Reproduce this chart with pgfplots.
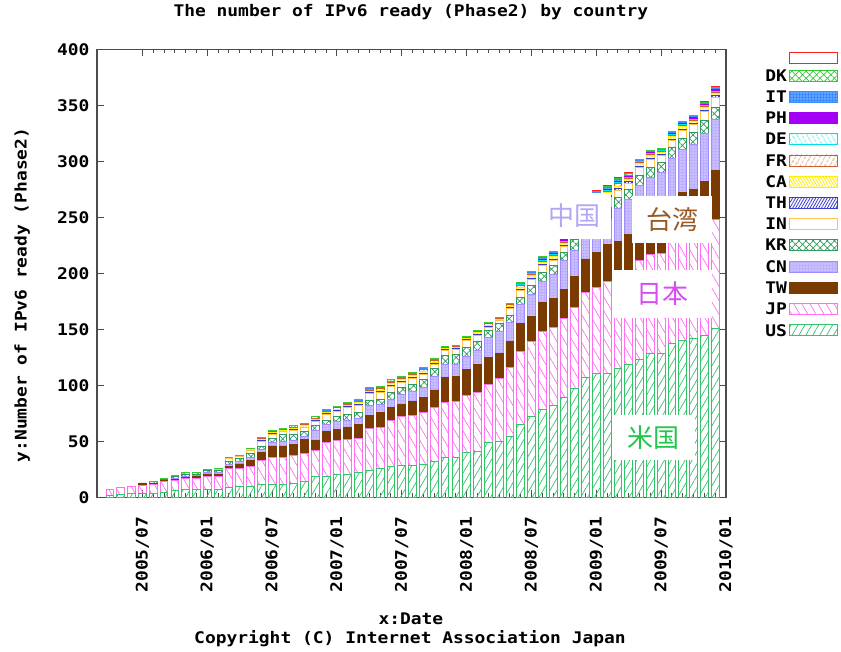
\documentclass[border=0pt]{standalone}
\usepackage{pgfplots}
\pgfplotsset{compat=1.18}
\usepackage{pgfplotstable}
\usetikzlibrary{patterns,patterns.meta}
\usepackage{fontspec}
\newfontfamily\gfont{DejaVu Sans Mono}[FakeStretch=1.12]
\newfontfamily\cjk{Noto Sans CJK JP}
\newcommand\gf{\gfont\bfseries\fontsize{16}{18}\selectfont}
\newcommand\cj{\cjk\fontsize{26}{28}\selectfont}

\definecolor{usc}{HTML}{33C46A}
\definecolor{jpc}{HTML}{FF6EF5}
\definecolor{twc}{HTML}{7B3A00}
\definecolor{cnc}{HTML}{A18CFF}
\definecolor{krc}{HTML}{2E9A5E}
\definecolor{inc}{HTML}{FFC34D}
\definecolor{thc}{HTML}{3B3BD1}
\definecolor{cac}{HTML}{FFEE00}
\definecolor{frc}{HTML}{D0602A}
\definecolor{dec}{HTML}{00E0EE}
\definecolor{phc}{HTML}{A300F5}
\definecolor{itc}{HTML}{3A8CFF}
\definecolor{dkc}{HTML}{36C936}
\definecolor{xxc}{HTML}{FF2020}
\definecolor{lbUS}{HTML}{21C74A}
\definecolor{lbJP}{HTML}{D94CF2}
\definecolor{lbTW}{HTML}{9A5A22}
\definecolor{lbCN}{HTML}{B5A5F7}

\pgfplotstableread{
x  US  JP  TW CN KR IN TH CA FR DE PH IT DK XX
3   2   5   0  0  0  0  0  0  0  0  0  0  0  0
4   3   6   0  0  0  0  0  0  0  0  0  0  0  0
5   4   6   0  0  0  0  0  0  0  0  0  0  0  0
6   4   7   2  0  0  0  0  0  0  0  0  0  0  0
7   4   8   1  0  0  0  0  0  0  0  0  0  1  0
8   5   9   1  0  1  0  0  0  0  0  0  0  1  0
9   6   9   1  1  2  0  0  0  0  0  0  0  1  0
10  7  10   1  1  2  0  0  0  0  0  0  0  1  0
11  7  10   2  1  1  0  0  0  0  0  0  0  1  0
12  7  12   2  1  2  0  0  0  0  0  0  0  1  0
13  7  12   2  1  2  1  0  0  0  0  0  0  1  0
14  9  17   2  2  2  3  0  0  0  0  0  0  1  0
15 10  16   4  2  3  2  0  0  0  0  0  0  1  0
16 10  18   5  3  3  3  0  1  0  0  0  0  1  0
17 12  21   7  3  3  4  1  1  1  0  0  0  1  0
18 12  24  10  3  4  3  1  1  1  0  0  0  1  0
19 12  24  10  4  6  3  0  1  1  0  0  0  1  0
20 13  25   9  4  5  4  1  1  1  0  0  0  1  0
21 14  25  13  3  4  4  0  1  1  0  0  0  1  0
22 19  23   9  9  4  4  1  1  1  0  0  0  1  0
23 19  30  10  6  4  5  1  1  1  0  0  1  1  0
24 21  30  10  7  4  5  1  1  1  0  0  0  1  0
25 21  31  11  6  5  6  1  1  1  0  0  1  1  0
26 22  31  12  6  5  6  1  2  1  0  0  1  1  0
27 24  38  11  9  5  6  1  1  1  0  0  1  1  0
28 26  37  13  7  5  6  1  1  1  0  0  1  1  0
29 28  41  11  8  6  5  1  2  1  0  0  1  1  0
30 29  43  11  9  6  5  1  1  1  0  0  1  1  0
31 29  44  13  9  6  5  1  2  1  0  0  1  1  0
32 30  46  13  9  7  5  1  2  1  0  0  1  1  0
33 32  48  16 12  7  4  1  1  1  0  0  1  1  0
34 36  49  22 12  8  4  1  1  1  0  0  0  1  0
35 36  50  22 11  9  4  1  1  1  0  0  0  1  0
36 40  51  23 12  8  6  1  1  1  0  0  0  1  0
37 41  53  25 12  8  6  1  1  1  0  0  0  1  0
38 49  52  24 18  6  3  1  1  1  0  0  0  1  0
39 50  56  23 19  7  3  0  1  1  0  0  0  1  0
40 55  61  23 17  7  6  1  1  1  0  0  0  1  0
41 65  65  25 17  7  6  1  2  1  1  0  1  1  0
42 72  67  23 19  8  6  1  2  1  1  0  1  1  0
43 79  69  26 19  8  6  1  2  1  1  1  1  1  0
44 82  70  26 21  8  5  1  2  1  1  1  1  1  0
45 89  71  26 26  7  5  1  2  1  1  1  1  1  0
46 97  73  27 24  9  6  1  2  1  1  1  1  1  1
47 107 76  30 22  9  7  1  2  1  1  1  1  1  1
48 111 77  31 25 11  9  2  2  1  1  1  1  1  1
49 111 82  33 22 11  9  2  2  1  1  1  2  1  1
50 115 86  28 29 10  6  2  2  2  1  1  2  1  1
51 119 82  34 31  9  5  2  2  1  1  1  1  1  1
52 123 89  33 34  9  7  1  2  1  1  0  1  1  0
53 129 88  33 36  9  7  1  2  1  1  1  1  1  0
54 129 89  34 38  9  6  1  2  1  1  0  1  1  0
55 138 95  33 37 10  6  1  2  1  1  1  1  1  0
56 140 100 32 39 10  7  1  2  1  1  1  1  1  0
57 142 101 32 40 11  7  1  2  1  1  1  1  1  0
58 145 100 37 43 12  8  1  2  1  1  1  1  1  1
59 151 97  44 46 10  9  2  2  1  1  1  1  1  1
}\data

\pgfplotsset{
  sUS/.style={draw=usc, line width=0.8pt, pattern={Lines[angle=60,distance=6pt,line width=0.7pt]}, pattern color=usc},
  sJP/.style={draw=jpc, line width=0.8pt, pattern={Lines[angle=-60,distance=7pt,line width=0.7pt]}, pattern color=jpc},
  sTW/.style={draw=twc, line width=0.8pt, fill=twc},
  sCN/.style={draw=cnc, line width=0.8pt, fill=cnc!70, postaction={pattern={Dots[distance=3pt,radius=0.6pt]}, pattern color=white}},
  sKR/.style={draw=krc, line width=0.8pt, pattern={Hatch[angle=45,distance=5pt,line width=0.7pt]}, pattern color=krc},
  sIN/.style={draw=inc, line width=0.8pt, fill=white},
  sTH/.style={draw=thc, line width=0.8pt, pattern={Lines[angle=60,distance=2.5pt,line width=0.8pt]}, pattern color=thc},
  sCA/.style={draw=cac, line width=0.8pt, pattern={Lines[angle=-60,distance=2.5pt,line width=0.8pt]}, pattern color=cac},
  sFR/.style={draw=frc, line width=0.8pt, pattern={Lines[angle=60,distance=4pt,line width=0.8pt]}, pattern color=frc},
  sDE/.style={draw=dec, line width=0.8pt, pattern={Lines[angle=-60,distance=4pt,line width=0.8pt]}, pattern color=dec},
  sPH/.style={draw=phc, line width=0.8pt, fill=phc},
  sIT/.style={draw=itc, line width=0.8pt, fill=itc, postaction={pattern={Dots[distance=3pt,radius=0.6pt]}, pattern color=white}},
  sDK/.style={draw=dkc, line width=0.8pt, pattern={Hatch[angle=45,distance=5pt,line width=0.7pt]}, pattern color=dkc},
  sXX/.style={draw=xxc, line width=0.8pt, fill=white},
}

\begin{document}
\begin{tikzpicture}
\useasboundingbox (0,0) rectangle (841pt,651pt);
\begin{axis}[
  at={(97pt,153.5pt)}, anchor=south west,
  width=629pt, height=448pt, scale only axis,
  xmin=1.8, xmax=60, ymin=0, ymax=400,
  ybar stacked, bar width=0.72,
  xtick={6,12,18,24,30,36,42,48,54,60},
  xticklabels={2005/07,2006/01,2006/07,2007/01,2007/07,2008/01,2008/07,2009/01,2009/07,2010/01},
  minor x tick num=5,
  ytick={0,50,...,400},
  tick align=inside,
  major tick length=7pt, minor tick length=4pt,
  axis line style={draw=black!70, line width=1.2pt},
  every tick/.style={draw=black!70, line width=1pt},
  tick label style={font=\gf},
  /pgf/number format/assume math mode=true,
  xticklabel style={rotate=90, anchor=east},
  xticklabel shift=16pt,
  yticklabel shift=4pt,
  title={The number of IPv6 ready (Phase2) by country},
  title style={font=\gf, at={(axis description cs:0.499,1.070)}, anchor=center},
  xlabel={x:Date},
  xlabel style={font=\gf, at={(axis description cs:0.499,-0.271)}, anchor=center},
  ylabel={y:Number of IPv6 ready (Phase2)},
  ylabel style={font=\gf, at={(axis description cs:-0.119,0.452)}, anchor=center},
  reverse legend,
  legend cell align=right,
  legend plot pos=right,
  legend image code/.code={\draw[#1] (0pt,-5pt) rectangle (48pt,6pt);},
  legend style={draw=none, fill=none, inner sep=0pt, font=\gf, at={(rel axis cs:1.178,0.995)}, anchor=north east, row sep=4pt},
]
\addplot[sUS] table[x=x,y=US]{\data}; \addlegendentry{US}
\addplot[sJP] table[x=x,y=JP]{\data}; \addlegendentry{JP}
\addplot[sTW] table[x=x,y=TW]{\data}; \addlegendentry{TW}
\addplot[sCN] table[x=x,y=CN]{\data}; \addlegendentry{CN}
\addplot[sKR] table[x=x,y=KR]{\data}; \addlegendentry{KR}
\addplot[sIN] table[x=x,y=IN]{\data}; \addlegendentry{IN}
\addplot[sTH] table[x=x,y=TH]{\data}; \addlegendentry{TH}
\addplot[sCA] table[x=x,y=CA]{\data}; \addlegendentry{CA}
\addplot[sFR] table[x=x,y=FR]{\data}; \addlegendentry{FR}
\addplot[sDE] table[x=x,y=DE]{\data}; \addlegendentry{DE}
\addplot[sPH] table[x=x,y=PH]{\data}; \addlegendentry{PH}
\addplot[sIT] table[x=x,y=IT]{\data}; \addlegendentry{IT}
\addplot[sDK] table[x=x,y=DK]{\data}; \addlegendentry{DK}
\addplot[sXX] table[x=x,y=XX]{\data}; \addlegendentry{}
\coordinate (cCN) at (axis cs:46.0,251.5);
\coordinate (cTW) at (axis cs:55.03,248.2);
\coordinate (cJP) at (axis cs:54.1,181.7);
\coordinate (cUS) at (axis cs:53.3,53.6);
\end{axis}
\node[fill=white, inner sep=0pt, minimum width=72pt, minimum height=46pt, text=lbCN, font=\cj] at (cCN) {中国};
\node[fill=white, inner sep=0pt, minimum width=80pt, minimum height=47pt, text=lbTW, font=\cj] at (cTW) {台湾};
\node[fill=white, inner sep=0pt, minimum width=100pt, minimum height=48pt, text=lbJP, font=\cj] at (cJP) {日本};
\node[fill=white, inner sep=0pt, minimum width=83pt, minimum height=45pt, text=lbUS, font=\cj] at (cUS) {米国};
\node[font=\gf] at (410pt,12pt) {Copyright (C) Internet Association Japan};
\end{tikzpicture}
\end{document}
